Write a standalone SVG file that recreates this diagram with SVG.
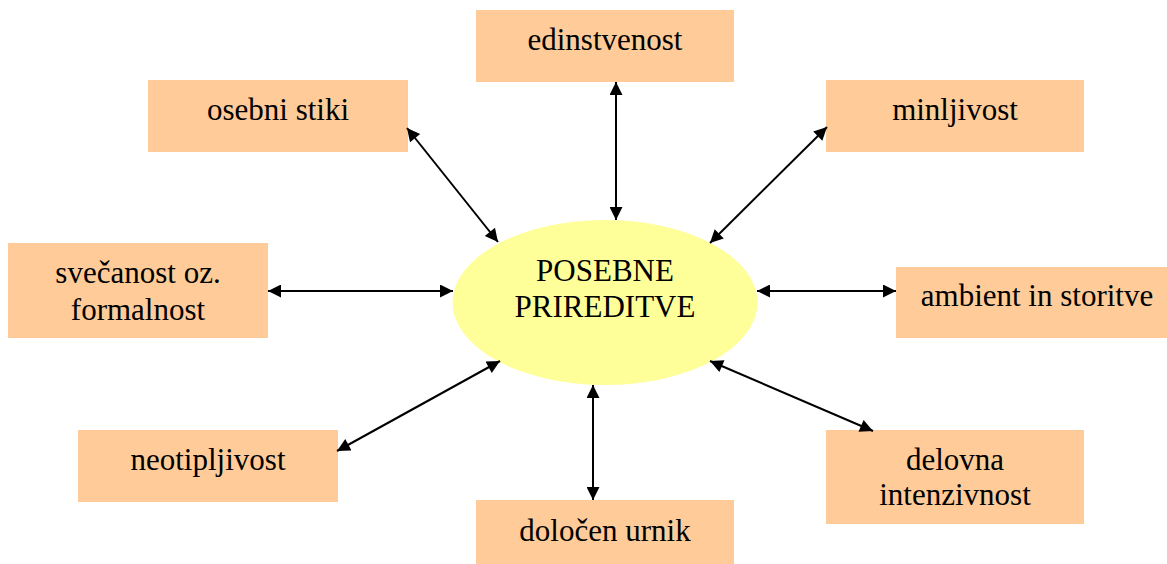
<svg xmlns="http://www.w3.org/2000/svg" width="1167" height="564" viewBox="0 0 1167 564">
<style>
.box{fill:#FFCC99;stroke:none}
.c{stroke:#000;stroke-width:2;fill:none;marker-start:url(#ah);marker-end:url(#ah)}
</style>
<defs>
<marker id="ah" viewBox="0 0 10 10" refX="10" refY="5" markerWidth="17" markerHeight="13" markerUnits="userSpaceOnUse" orient="auto-start-reverse">
<path d="M0,0 L10,5 L0,10 Z" fill="#000"/>
</marker>
</defs>
<rect width="1167" height="564" fill="#fff"/>
<g font-family="Liberation Serif, Times New Roman, serif" font-size="31" text-anchor="middle" fill="#000">
<g id="center">
<ellipse cx="605" cy="302.5" rx="152.5" ry="82.5" fill="#FFFF99"/>
<text x="605" y="281">POSEBNE</text>
<text x="605" y="317">PRIREDITVE</text>
</g>
<g id="edinstvenost"><rect class="box" x="476" y="10" width="258" height="72"/><text x="605" y="50">edinstvenost</text></g>
<g id="osebni-stiki"><rect class="box" x="148" y="80" width="260" height="72"/><text x="278" y="120">osebni stiki</text></g>
<g id="minljivost"><rect class="box" x="826" y="80" width="258" height="72"/><text x="955" y="120">minljivost</text></g>
<g id="svecanost"><rect class="box" x="8" y="243" width="260" height="95"/><text x="138" y="283">svečanost oz.</text><text x="138" y="320">formalnost</text></g>
<g id="ambient"><rect class="box" x="896" y="267" width="282" height="71"/><text x="1037" y="306">ambient in storitve</text></g>
<g id="neotipljivost"><rect class="box" x="78" y="430" width="260" height="72"/><text x="208" y="470">neotipljivost</text></g>
<g id="dolocen-urnik"><rect class="box" x="476" y="500" width="258" height="70"/><text x="605" y="541">določen urnik</text></g>
<g id="delovna"><rect class="box" x="826" y="430" width="258" height="94"/><text x="955" y="470">delovna</text><text x="955" y="505">intenzivnost</text></g>
</g>
<g id="connectors">
<line class="c" x1="616" y1="82" x2="616" y2="220"/>
<line class="c" x1="407" y1="128" x2="498" y2="242"/>
<line class="c" x1="827" y1="127" x2="710" y2="243"/>
<line class="c" x1="268" y1="291" x2="453" y2="291"/>
<line class="c" x1="757" y1="291" x2="896" y2="291"/>
<line class="c" x1="337" y1="451" x2="500" y2="361"/>
<line class="c" x1="710" y1="361" x2="873" y2="431"/>
<line class="c" x1="593" y1="385" x2="593" y2="500"/>
</g>
</svg>
